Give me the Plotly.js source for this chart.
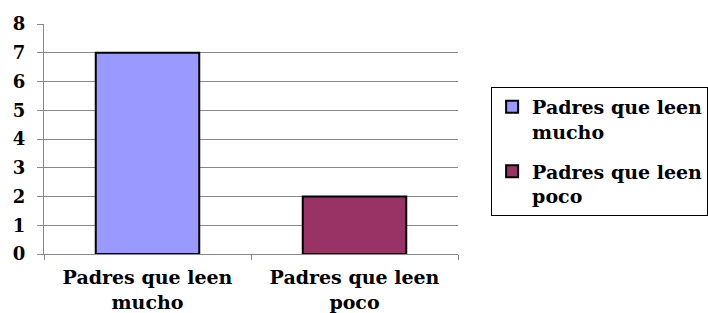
<!DOCTYPE html>
<html>
<head>
<meta charset="utf-8">
<script src="https://cdn.plot.ly/plotly-3.0.1.min.js"></script>
<style>html,body{margin:0;padding:0;background:#fff;}#chart{width:708px;height:313px;}</style>
</head>
<body>
<div id="chart"></div>
<script>
var categories = ["Padres que leen mucho", "Padres que leen poco"];
var tickLabels = ["Padres que leen<br>mucho", "Padres que leen<br>poco"];
var seriesNames = ["Padres que leen<br>mucho", "Padres que leen<br>poco"];
var values = [7, 2];
var colors = ["#9999FF", "#993366"];
var yTicks = [0, 1, 2, 3, 4, 5, 6, 7, 8];

var FONT = "'DejaVu Serif', Georgia, serif";

var traces = categories.map(function (c, i) {
  return {
    type: "bar",
    x: [c],
    y: [values[i]],
    name: seriesNames[i],
    legendgroup: "g" + i,
    marker: { color: colors[i], line: { color: "#000", width: 2 } },
    hoverinfo: "skip"
  };
});

var layout = {
  width: 708,
  height: 313,
  margin: { l: 44, r: 250, t: 24, b: 59, autoexpand: false },
  paper_bgcolor: "#fff",
  plot_bgcolor: "#fff",
  barmode: "overlay",
  bargap: 0.5,
  font: { family: FONT, size: 19, color: "#000", weight: "bold" },
  xaxis: {
    type: "category",
    categoryarray: categories,
    tickvals: categories,
    ticktext: tickLabels,
    showline: true,
    linecolor: "#888",
    linewidth: 1,
    ticks: "outside",
    tickson: "boundaries",
    ticklen: 5,
    tickcolor: "#888",
    ticklabelstandoff: 6,
    showgrid: false,
    tickfont: { family: FONT, size: 19, weight: "bold" },
    fixedrange: true
  },
  yaxis: {
    range: [0, 8],
    tickvals: yTicks,
    showline: true,
    linecolor: "#888",
    linewidth: 1,
    ticks: "outside",
    ticklen: 6,
    tickcolor: "#888",
    ticklabelstandoff: 8,
    showgrid: true,
    gridcolor: "#888",
    gridwidth: 1,
    zeroline: false,
    tickfont: { family: FONT, size: 18, weight: "bold" },
    fixedrange: true
  },
  showlegend: true,
  legend: {
    x: 1.08,
    y: 0.726,
    xanchor: "left",
    yanchor: "top",
    bordercolor: "#000",
    borderwidth: 1,
    bgcolor: "#fff",
    valign: "top",
    traceorder: "grouped",
    tracegroupgap: 12,
    itemwidth: 30,
    font: { family: FONT, size: 19, weight: "bold" }
  }
};

Plotly.newPlot("chart", traces, layout, { displayModeBar: false, staticPlot: true });
</script>
</body>
</html>
